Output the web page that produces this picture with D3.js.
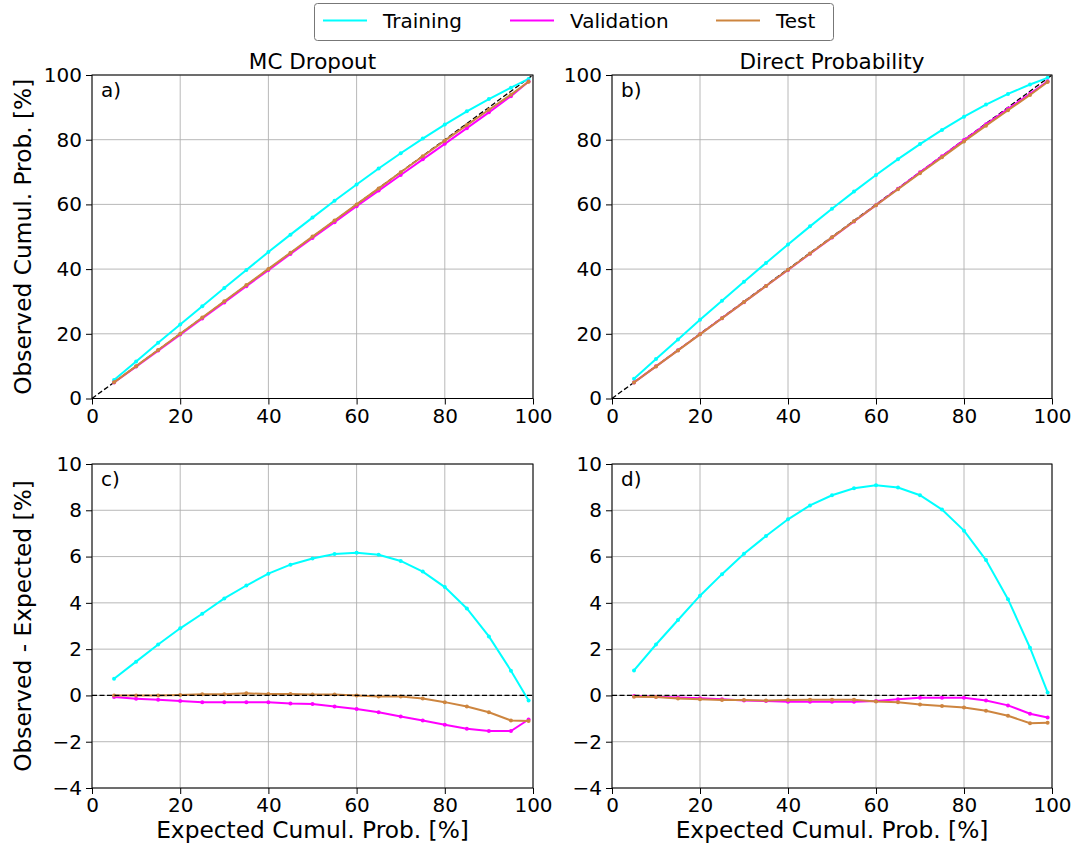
<!DOCTYPE html>
<html>
<head>
<meta charset="utf-8">
<script src="https://cdn.jsdelivr.net/npm/d3@7"></script>
<style>
  body { margin: 0; background: #fff; }
  svg text { font-family: "DejaVu Sans", sans-serif; fill: #000; }
</style>
</head>
<body>
<svg id="chart" width="1077" height="847"></svg>
<script>
// expected cumulative probability levels
var expected = [5, 10, 15, 20, 25, 30, 35, 40, 45, 50, 55, 60, 65, 70, 75, 80, 85, 90, 95, 99];

// MC Dropout, observed cumul. prob.
var mcTrainObs = [5.72, 11.46, 17.2, 22.9, 28.53, 34.19, 39.75, 45.26, 50.65, 55.92, 61.11, 66.17, 71.08, 75.81, 80.35, 84.68, 88.76, 92.55, 96.07, 98.78];
var mcValObs = [4.93, 9.86, 14.81, 19.76, 24.71, 29.7, 34.71, 39.7, 44.65, 49.63, 54.52, 59.41, 64.27, 69.09, 73.92, 78.73, 83.56, 88.46, 93.46, 97.96];
var mcTestObs = [5.0, 10.0, 15.0, 20.02, 25.05, 30.05, 35.09, 40.06, 45.06, 50.04, 55.04, 60.0, 64.95, 69.95, 74.87, 79.71, 84.52, 89.27, 93.92, 97.9];

// Direct Probability, observed cumul. prob.
var dpTrainObs = [6.08, 12.2, 18.26, 24.31, 30.24, 36.12, 41.89, 47.61, 53.21, 58.65, 63.95, 69.08, 73.98, 78.65, 83.03, 87.12, 90.85, 94.16, 97.06, 99.13];
var dpValObs = [4.97, 9.94, 14.91, 19.88, 24.84, 29.78, 34.76, 39.73, 44.73, 49.73, 54.73, 59.76, 64.84, 69.9, 74.9, 79.9, 84.78, 89.57, 94.21, 98.05];
var dpTestObs = [4.94, 9.93, 14.87, 19.83, 24.8, 29.8, 34.78, 39.8, 44.81, 49.81, 54.81, 59.74, 64.7, 69.61, 74.54, 79.48, 84.34, 89.12, 93.8, 97.82];

// MC Dropout, observed - expected
var mcTrainDiff = [0.72, 1.46, 2.2, 2.9, 3.53, 4.19, 4.75, 5.26, 5.65, 5.92, 6.11, 6.17, 6.08, 5.81, 5.35, 4.68, 3.76, 2.55, 1.07, -0.22];
var mcValDiff = [-0.07, -0.14, -0.19, -0.24, -0.29, -0.3, -0.29, -0.3, -0.35, -0.37, -0.48, -0.59, -0.73, -0.91, -1.08, -1.27, -1.44, -1.54, -1.54, -1.04];
var mcTestDiff = [0.0, 0.0, 0.0, 0.02, 0.05, 0.05, 0.09, 0.06, 0.06, 0.04, 0.04, 0.0, -0.05, -0.05, -0.13, -0.29, -0.48, -0.73, -1.08, -1.1];

// Direct Probability, observed - expected
var dpTrainDiff = [1.08, 2.2, 3.26, 4.31, 5.24, 6.12, 6.89, 7.61, 8.21, 8.65, 8.95, 9.08, 8.98, 8.65, 8.03, 7.12, 5.85, 4.16, 2.06, 0.13];
var dpValDiff = [-0.03, -0.06, -0.09, -0.12, -0.16, -0.22, -0.24, -0.27, -0.27, -0.27, -0.27, -0.24, -0.16, -0.1, -0.1, -0.1, -0.22, -0.43, -0.79, -0.95];
var dpTestDiff = [-0.06, -0.07, -0.13, -0.17, -0.2, -0.2, -0.22, -0.2, -0.19, -0.19, -0.19, -0.26, -0.3, -0.39, -0.46, -0.52, -0.66, -0.88, -1.2, -1.18];

var seriesNames = ["Training", "Validation", "Test"];
var seriesColors = ["#00ffff", "#ff00ff", "#cd853f"];
var xTicks = [0, 20, 40, 60, 80, 100];
var topTicks = [0, 20, 40, 60, 80, 100];
var bottomTicks = [-4, -2, 0, 2, 4, 6, 8, 10];

var svg = d3.select("#chart");

var cols = [{ left: 92, right: 533, title: "MC Dropout" },
            { left: 612, right: 1052, title: "Direct Probability" }];
var rows = [{ top: 75, bottom: 398.5, domain: [0, 100], ticks: topTicks, label: "Observed Cumul. Prob. [%]" },
            { top: 464, bottom: 788, domain: [-4, 10], ticks: bottomTicks, label: "Observed - Expected [%]" }];

var panels = [
    { col: 0, row: 0, tag: "a)", data: [mcTrainObs, mcValObs, mcTestObs] },
    { col: 1, row: 0, tag: "b)", data: [dpTrainObs, dpValObs, dpTestObs] },
    { col: 0, row: 1, tag: "c)", data: [mcTrainDiff, mcValDiff, mcTestDiff] },
    { col: 1, row: 1, tag: "d)", data: [dpTrainDiff, dpValDiff, dpTestDiff] }
];

function drawPanel(p) {
    var c = cols[p.col], r = rows[p.row];
    var x = d3.scaleLinear().domain([0, 100]).range([c.left, c.right]);
    var y = d3.scaleLinear().domain(r.domain).range([r.bottom, r.top]);
    var g = svg.append("g");

    // grid
    g.append("g").selectAll("line").data(xTicks).enter().append("line")
        .attr("x1", function (d) { return x(d); }).attr("x2", function (d) { return x(d); })
        .attr("y1", r.top).attr("y2", r.bottom)
        .attr("stroke", "#b0b0b0").attr("stroke-width", 0.9);
    g.append("g").selectAll("line").data(r.ticks).enter().append("line")
        .attr("y1", function (d) { return y(d); }).attr("y2", function (d) { return y(d); })
        .attr("x1", c.left).attr("x2", c.right)
        .attr("stroke", "#b0b0b0").attr("stroke-width", 0.9);

    // 1:1 line sits under the curves in the top row
    function refLine() {
        var y2 = p.row === 0 ? y(100) : y(0);
        g.append("line").attr("x1", x(0)).attr("y1", y(0)).attr("x2", x(100)).attr("y2", y2)
            .attr("stroke", "#000").attr("stroke-width", 1.3).attr("stroke-dasharray", "5,2.5");
    }
    if (p.row === 0) refLine();

    // series
    var line = d3.line()
        .x(function (d, i) { return x(expected[i]); })
        .y(function (d) { return y(d); });
    p.data.forEach(function (vals, si) {
        g.append("path").datum(vals)
            .attr("d", line)
            .attr("fill", "none")
            .attr("stroke", seriesColors[si])
            .attr("stroke-width", 2);
        g.append("g").selectAll("circle").data(vals).enter().append("circle")
            .attr("cx", function (d, i) { return x(expected[i]); })
            .attr("cy", function (d) { return y(d); })
            .attr("r", 2)
            .attr("fill", seriesColors[si]);
    });

    if (p.row === 1) refLine();

    // axes
    var xAxis = g.append("g").attr("transform", "translate(0," + r.bottom + ")")
        .call(d3.axisBottom(x).tickValues(xTicks).tickSize(6).tickPadding(4));
    var yAxis = g.append("g").attr("transform", "translate(" + c.left + ",0)")
        .call(d3.axisLeft(y).tickValues(r.ticks).tickSize(6).tickPadding(4));
    [xAxis, yAxis].forEach(function (a) {
        a.select(".domain").remove();
        a.selectAll("line").attr("stroke", "#000").attr("stroke-width", 1);
        a.selectAll("text").attr("font-size", "20px").attr("font-family", "DejaVu Sans");
    });

    // frame
    g.append("rect").attr("x", c.left).attr("y", r.top)
        .attr("width", c.right - c.left).attr("height", r.bottom - r.top)
        .attr("fill", "none").attr("stroke", "#000").attr("stroke-width", 1);

    g.append("text").attr("x", c.left + 9).attr("y", r.top + 22)
        .attr("font-size", "20px").text(p.tag);

    if (p.row === 0) {
        g.append("text").attr("x", (c.left + c.right) / 2).attr("y", r.top - 6)
            .attr("text-anchor", "middle").attr("font-size", "21.5px").text(c.title);
    } else {
        g.append("text").attr("x", (c.left + c.right) / 2).attr("y", 838)
            .attr("text-anchor", "middle").attr("font-size", "23.3px").text("Expected Cumul. Prob. [%]");
    }
    if (p.col === 0) {
        var cy = (r.top + r.bottom) / 2;
        g.append("text").attr("transform", "translate(31," + cy + ") rotate(-90)")
            .attr("text-anchor", "middle").attr("font-size", "23.3px").text(r.label);
    }
}

panels.forEach(drawPanel);

// legend
var legend = svg.append("g");
legend.append("rect").attr("x", 314.5).attr("y", 3.5).attr("width", 519).attr("height", 37).attr("rx", 3)
    .attr("fill", "#fff").attr("stroke", "#777").attr("stroke-width", 1);
var legendX = [323, 510, 716];
seriesNames.forEach(function (name, i) {
    legend.append("line").attr("x1", legendX[i]).attr("x2", legendX[i] + 44)
        .attr("y1", 20.5).attr("y2", 20.5)
        .attr("stroke", seriesColors[i]).attr("stroke-width", 2);
    legend.append("text").attr("x", legendX[i] + 60).attr("y", 28)
        .attr("font-size", "20px").text(name);
});
</script>
</body>
</html>
